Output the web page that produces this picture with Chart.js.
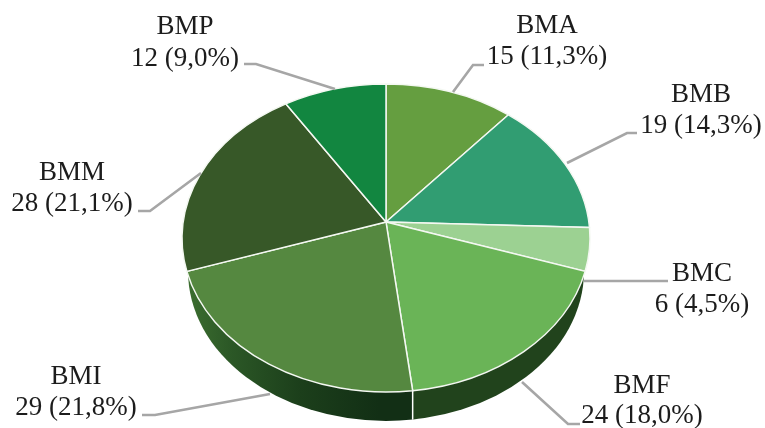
<!DOCTYPE html>
<html>
<head>
<meta charset="utf-8">
<style>
  html, body { margin: 0; padding: 0; background: #fff; }
  canvas { display: block; }
</style>
<script src="https://cdn.jsdelivr.net/npm/chart.js@4/dist/chart.umd.js"></script>
</head>
<body>
<canvas id="chart" width="765" height="428"></canvas>
<script>
const categories = ['BMA', 'BMB', 'BMC', 'BMF', 'BMI', 'BMM', 'BMP']
const counts = [15, 19, 6, 24, 29, 28, 12]
const colors = ['#659e40', '#319d72', '#9cd192', '#6ab457', '#558840', '#375828', '#128640']

// leader line points, text centre and the two baselines of each label
const labelLayout = [
  { x: 547, base: [33, 64], line: [[484, 65], [473, 65], [453, 92]] },
  { x: 701, base: [102, 133], line: [[637, 133], [627, 133], [567, 163]] },
  { x: 702, base: [281, 312], line: [[668, 281], [584, 281]] },
  { x: 642, base: [393, 423], line: [[580, 424], [568, 424], [522, 382]] },
  { x: 76, base: [384, 415], line: [[142, 415], [155, 415], [270, 394]] },
  { x: 72, base: [180, 211], line: [[138, 211], [150, 211], [201, 173]] },
  { x: 185, base: [34, 66], line: [[244, 64], [256, 64], [335, 89]] }
]

// the top face is an ellipse seen in perspective, the apex sits above its centre
const top3d = { x: 386, y: 238, rx: 204, ry: 154, apexY: 222 }
const bottom3d = { x: 386, y: 271, rx: 198, ry: 150 }

const total = counts.reduce((a, b) => a + b, 0)

const percent = (v) => (v / total * 100).toFixed(1).replace('.', ',')

// maps a pie angle to the rim of the ellipse
const rimAngle = (angle) => {
  let a = (top3d.apexY - top3d.y) / top3d.ry
  let u = Math.cos(angle)
  let v = Math.sin(angle)
  let d = 1 + a * v
  return Math.atan2((v + a) / d, u * Math.sqrt(1 - a * a) / d)
}

const rimPoint = (t) => ({
  x: top3d.x + top3d.rx * Math.cos(t),
  y: top3d.y + top3d.ry * Math.sin(t)
})

const wallFill = (ctx, i, x0, x1) => {
  if (categories[i] !== 'BMI') {
    return '#21431c'
  }
  let g = ctx.createLinearGradient(x0, 0, x1, 0)
  g.addColorStop(0, '#3c6e30')
  g.addColorStop(0.2, '#2b5726')
  g.addColorStop(0.5, '#1c3f1b')
  g.addColorStop(0.85, '#122f15')
  g.addColorStop(1, '#122f15')
  return g
}

const pie3d = {
  id: 'pie3d',
  beforeDatasetDraw (chart, args) {
    let ctx = chart.ctx
    let arcs = args.meta.data

    // side wall, only for the slices on the lower half
    arcs.forEach((arc, i) => {
      let p0 = rimPoint(rimAngle(arc.startAngle))
      let p1 = rimPoint(rimAngle(arc.endAngle))
      let mid = rimPoint(rimAngle((arc.startAngle + arc.endAngle) / 2))
      if (mid.y <= top3d.y) {
        return
      }
      let x0 = Math.min(p0.x, p1.x)
      let x1 = Math.max(p0.x, p1.x)
      ctx.save()
      ctx.beginPath()
      ctx.rect(x0, 0, x1 - x0, chart.height)
      ctx.clip()
      ctx.beginPath()
      ctx.ellipse(bottom3d.x, bottom3d.y, bottom3d.rx, bottom3d.ry, 0, 0, Math.PI * 2)
      ctx.fillStyle = wallFill(ctx, i, x0, x1)
      ctx.fill()
      ctx.restore()
    })

    // white seam between the two visible wall pieces
    let seam = rimPoint(rimAngle(arcs[categories.indexOf('BMF')].endAngle))
    let dx = (seam.x - bottom3d.x) / bottom3d.rx
    ctx.beginPath()
    ctx.moveTo(seam.x, seam.y)
    ctx.lineTo(seam.x, bottom3d.y + bottom3d.ry * Math.sqrt(1 - dx * dx))
    ctx.strokeStyle = '#fff'
    ctx.lineWidth = 1.5
    ctx.stroke()

    // top face
    arcs.forEach((arc, i) => {
      ctx.beginPath()
      ctx.moveTo(top3d.x, top3d.apexY)
      ctx.ellipse(top3d.x, top3d.y, top3d.rx, top3d.ry, 0, rimAngle(arc.startAngle), rimAngle(arc.endAngle))
      ctx.closePath()
      ctx.fillStyle = colors[i]
      ctx.fill()
      ctx.strokeStyle = '#f4f8f2'
      ctx.lineWidth = 1.5
      ctx.stroke()
    })
    return false
  },
  afterDraw (chart) {
    let ctx = chart.ctx
    ctx.save()
    labelLayout.forEach((l, i) => {
      ctx.beginPath()
      l.line.forEach((p, j) => {
        if (j === 0) {
          ctx.moveTo(p[0], p[1])
        } else {
          ctx.lineTo(p[0], p[1])
        }
      })
      ctx.strokeStyle = '#a6a6a6'
      ctx.lineWidth = 2.6
      ctx.stroke()

      ctx.font = '27px "Liberation Serif"'
      ctx.fillStyle = '#1c1c1c'
      ctx.textAlign = 'center'
      ctx.textBaseline = 'alphabetic'
      ctx.fillText(categories[i], l.x, l.base[0])
      ctx.fillText(counts[i] + ' (' + percent(counts[i]) + '%)', l.x, l.base[1])
    })
    ctx.restore()
  }
}

new Chart(document.getElementById('chart'), {
  type: 'pie',
  data: {
    labels: categories,
    datasets: [{ data: counts, backgroundColor: colors, borderWidth: 0 }]
  },
  options: {
    responsive: false,
    animation: false,
    events: [],
    plugins: {
      legend: { display: false },
      tooltip: { enabled: false }
    }
  },
  plugins: [pie3d]
})
</script>
</body>
</html>
